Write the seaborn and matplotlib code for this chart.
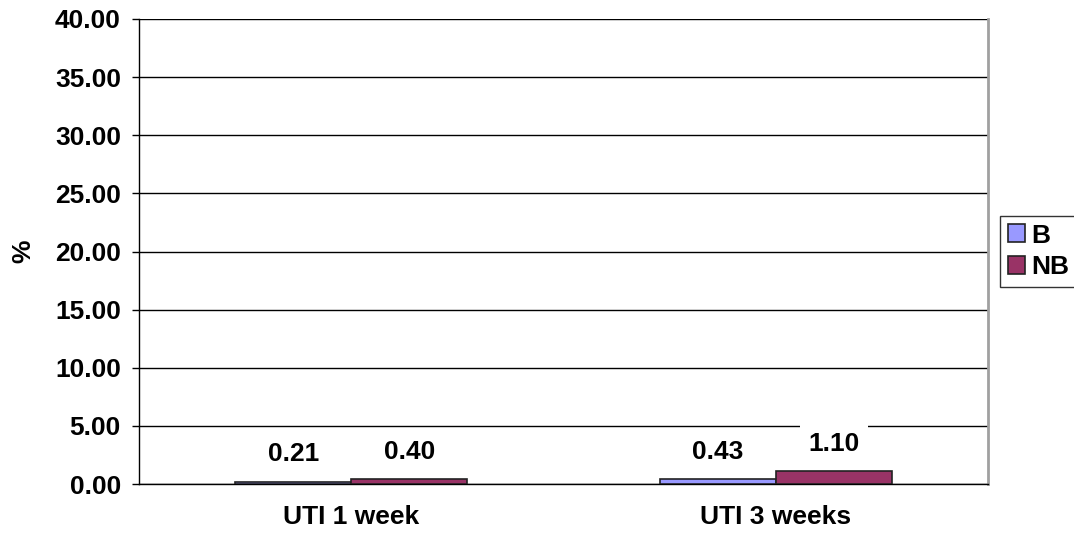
import matplotlib
matplotlib.use("Agg")

import matplotlib.pyplot as plt
import pandas as pd
import seaborn as sns

# data
categories = ["UTI 1 week", "UTI 3 weeks"]
groups = ["B", "NB"]
b_values = [0.21, 0.43]
nb_values = [0.40, 1.10]
y_ticks = [0, 5, 10, 15, 20, 25, 30, 35, 40]

colors = {"B": "#9999FF", "NB": "#993366"}

df = pd.DataFrame({
    "category": categories * 2,
    "group": ["B"] * len(categories) + ["NB"] * len(categories),
    "value": b_values + nb_values,
})

sns.set_style("white")
plt.rcParams["font.family"] = ["Liberation Sans", "DejaVu Sans"]
plt.rcParams["font.weight"] = "bold"
plt.rcParams["text.color"] = "black"
plt.rcParams["axes.labelcolor"] = "black"
plt.rcParams["xtick.color"] = "black"
plt.rcParams["ytick.color"] = "black"

FS = 19

fig = plt.figure(figsize=(10.74, 5.44), dpi=100)
ax = fig.add_axes([139 / 1074, 1 - 484 / 544, (988 - 139) / 1074, (484 - 19) / 544])

sns.barplot(
    data=df, x="category", y="value", hue="group", hue_order=groups,
    order=categories, palette=colors, width=0.546, ax=ax,
    edgecolor="#222222", linewidth=1.2, saturation=1, zorder=3,
)

# value labels with white box (cuts the grid line)
for container in ax.containers:
    ax.bar_label(
        container, fmt="%.2f", padding=11, fontsize=FS, fontweight="bold",
        color="black",
        bbox=dict(facecolor="white", edgecolor="none", pad=6), zorder=4,
    )

ax.set_ylim(0, 40)
ax.set_xlim(-0.5, 1.5)
ax.set_yticks(y_ticks)
ax.set_yticklabels([f"{v:.2f}" for v in y_ticks], fontsize=FS, fontweight="bold")
ax.yaxis.grid(True, color="black", linewidth=1, zorder=0)
ax.set_axisbelow(True)

ax.set_xticks([0, 1])
ax.set_xticklabels(categories, fontsize=FS, fontweight="bold")
ax.set_xticks([-0.5, 0.5, 1.5], minor=True)
ax.tick_params(axis="x", which="major", length=0, pad=15)
ax.tick_params(axis="x", which="minor", length=5, width=1, color="black", direction="out")
ax.tick_params(axis="y", length=5, width=1, color="black", direction="out", left=True, pad=8)

ax.set_xlabel("")
ax.set_ylabel("%", fontsize=FS, fontweight="bold", labelpad=14)

for side in ["left", "bottom"]:
    ax.spines[side].set_color("black")
    ax.spines[side].set_linewidth(1)
ax.spines["top"].set_visible(False)
ax.spines["right"].set_color("#a0a0a0")
ax.spines["right"].set_linewidth(2)

leg = ax.legend(
    loc="center left", bbox_to_anchor=(1.014, 0.5), frameon=True,
    fancybox=False, edgecolor="black", prop={"size": FS, "weight": "bold"},
    handlelength=0.65, handleheight=0.65, handletextpad=0.25,
    borderpad=0.3, labelspacing=0.3, borderaxespad=0,
)
leg.get_frame().set_linewidth(1)

fig.savefig("out.png", dpi=100)
